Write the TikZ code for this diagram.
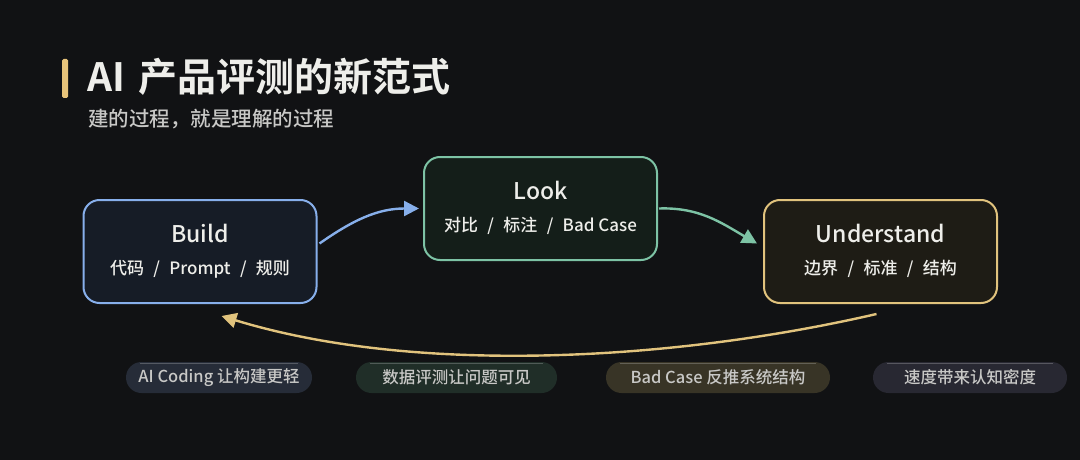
\documentclass[tikz,border=0pt]{standalone}
\usepackage{fontspec}
\setmainfont{Noto Sans CJK SC}[BoldFont={Noto Sans CJK SC Bold}]
\newfontfamily\medfont{Noto Sans CJK SC Medium}
\usetikzlibrary{arrows.meta}

\definecolor{bgDark}{RGB}{17,18,20}
\definecolor{titleWhite}{RGB}{238,238,234}
\definecolor{subGray}{RGB}{200,200,198}
\definecolor{barGold}{RGB}{232,196,122}
\definecolor{buildLine}{RGB}{135,175,235}
\definecolor{buildFill}{RGB}{22,28,38}
\definecolor{lookLine}{RGB}{125,195,165}
\definecolor{lookFill}{RGB}{20,30,25}
\definecolor{underLine}{RGB}{225,195,125}
\definecolor{underFill}{RGB}{30,28,21}
\definecolor{pillBlue}{RGB}{38,44,56}
\definecolor{pillGreen}{RGB}{32,46,40}
\definecolor{pillGold}{RGB}{56,52,38}
\definecolor{pillGray}{RGB}{40,40,50}

\newcommand{\sep}{\hspace{0.55em}/\hspace{0.55em}}

\begin{document}
\begin{tikzpicture}[
    x=1pt, y=1pt,
    every node/.style={align=center, inner sep=0pt},
    stageBox/.style={rectangle, rounded corners=16pt, line width=2pt, minimum width=233pt, minimum height=103pt},
    buildBox/.style={stageBox, draw=buildLine, fill=buildFill},
    lookBox/.style={stageBox, draw=lookLine, fill=lookFill},
    underBox/.style={stageBox, draw=underLine, fill=underFill},
    stageTitle/.style={text=titleWhite, font=\medfont\fontsize{23}{26}\selectfont},
    stageSub/.style={text=titleWhite, font=\medfont\fontsize{17}{20}\selectfont},
    pill/.style={rectangle, rounded corners=15.5pt, minimum height=31pt, text=subGray, font=\medfont\fontsize{16.5}{19}\selectfont},
    pillEdge/.style={line width=1pt, white, opacity=0.22},
    flow/.style={line width=2.4pt, -{Triangle[length=15pt,width=15pt]}}
]
\fill[bgDark] (0,0) rectangle (1080,-460);
\useasboundingbox (0,0) rectangle (1080,-460);

% Title
\fill[barGold, rounded corners=1.5pt] (62,-59) rectangle (68,-98);
\node[anchor=base west, text=titleWhite, font=\bfseries\fontsize{39}{44}\selectfont] (title) at (87,-92) {AI\hspace{0.12em} 产品评测的新范式};
\node[anchor=base west, text=subGray, font=\medfont\fontsize{20.5}{24}\selectfont] (subtitle) at (88,-127) {建的过程，就是理解的过程};

% Nodes
\node[buildBox] (build) at (200,-251.5) {};
\node[stageTitle] (buildTitle) at (200,-233) {Build};
\node[stageSub] (buildSub) at (200,-269) {代码\sep Prompt\sep 规则};

\node[lookBox] (look) at (540.5,-208.5) {};
\node[stageTitle] (lookTitle) at (540.5,-190) {Look};
\node[stageSub] (lookSub) at (540.5,-226) {对比\sep 标注\sep Bad Case};

\node[underBox] (under) at (880.5,-251.5) {};
\node[stageTitle] (underTitle) at (880.5,-233) {Understand};
\node[stageSub] (underSub) at (880.5,-269) {边界\sep 标准\sep 结构};

% Notes
\node[pill, fill=pillBlue, minimum width=186pt] (noteBuild) at (219,-377.5) {AI Coding 让构建更轻};
\node[pill, fill=pillGreen, minimum width=201pt] (noteLook) at (456.5,-377.5) {数据评测让问题可见};
\node[pill, fill=pillGold, minimum width=224pt] (noteUnder) at (718,-377.5) {Bad Case 反推系统结构};
\node[pill, fill=pillGray, minimum width=194pt] (noteSpeed) at (970,-377.5) {速度带来认知密度};
\foreach \n in {noteBuild,noteLook,noteUnder,noteSpeed}
    \draw[pillEdge] ([xshift=14pt,yshift=-1.5pt]\n.north west) -- ([xshift=-14pt,yshift=-1.5pt]\n.north east);

% Arrows
\draw[flow, buildLine] ([xshift=2pt,yshift=8pt]build.east) to[out=35,in=180] ([xshift=-4pt]look.west);
\draw[flow, lookLine] ([xshift=1pt,yshift=0pt]look.east) to[out=2,in=150] ([xshift=-6pt,yshift=8pt]under.west);
\draw[flow, underLine] ([xshift=-4pt,yshift=-10pt]under.south) to[out=193,in=-17,looseness=0.8] ([xshift=139pt,yshift=-12pt]build.south west);

\end{tikzpicture}
\end{document}
